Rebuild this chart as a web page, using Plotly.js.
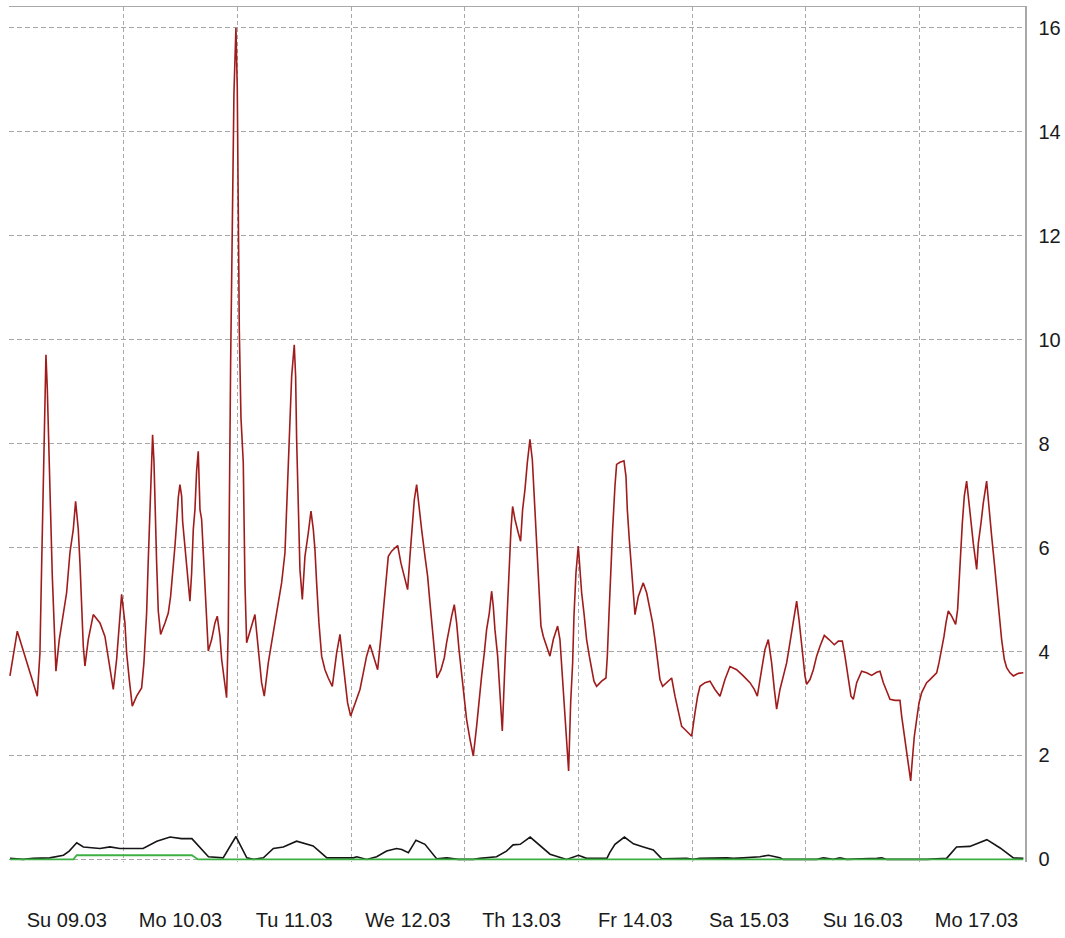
<!DOCTYPE html>
<html>
<head>
<meta charset="utf-8">
<script src="https://cdn.plot.ly/plotly-3.0.1.min.js"></script>
<style>
  html, body { margin: 0; padding: 0; background: #ffffff; }
  #chart { width: 1065px; height: 938px; }
</style>
</head>
<body>
<div id="chart"></div>
<script>
// Hours since Sun 09.03 00:00
const dayLabels = ['Su 09.03','Mo 10.03','Tu 11.03','We 12.03','Th 13.03','Fr 14.03','Sa 15.03','Su 16.03','Mo 17.03'];

const redHours = [0,1.55,5.77,6.33,6.68,7.04,7.39,7.6,7.88,8.3,8.58,8.94,9.36,9.71,10.41,11.26,11.96,12.66,13.37,13.86,
 14.42,14.78,15.13,15.48,15.83,16.53,17.59,19.0,20.05,20.76,21.81,22.52,23.22,23.57,24.27,24.63,25.19,25.82,26.74,27.79,
 28.28,28.85,29.2,29.55,29.9,30.11,30.4,30.61,30.96,31.31,31.8,32.72,33.42,33.91,34.33,34.83,35.18,35.53,35.88,36.24,
 36.45,36.94,37.29,37.64,37.99,38.35,38.7,39.05,39.4,39.75,40.11,40.46,40.81,41.16,41.65,41.86,42.57,43.27,43.76,44.33,
 44.68,45.17,45.73,46.08,46.3,46.58,46.93,47.28,47.7,47.98,48.2,48.41,48.76,49.25,49.6,49.96,51.71,52.42,53.12,53.68,
 54.53,55.23,55.94,56.64,57.34,58.05,58.4,58.75,59.1,59.46,60.01,60.3,60.51,60.86,61.21,61.71,62.27,62.97,63.54,64.03,
 64.38,64.73,65.22,65.79,66.49,67.19,68.04,68.95,69.66,70.15,70.71,71.27,71.91,72.82,73.88,74.58,75.28,75.99,76.69,77.61,
 78.31,78.8,79.3,79.86,80.56,81.27,81.83,82.53,83.24,83.94,84.43,84.93,85.35,85.84,86.33,86.89,87.6,88.16,88.65,89.15,
 89.71,90.13,90.98,91.68,92.17,92.66,93.23,93.79,94.28,94.78,95.34,95.9,96.39,97.1,97.8,98.5,99.0,99.56,100.12,100.61,
 101.18,101.67,102.02,102.37,102.94,103.43,103.92,104.49,104.98,105.33,105.75,106.1,106.6,107.3,107.79,108.21,108.71,109.2,109.76,110.26,
 110.61,111.03,111.38,111.73,112.08,112.58,113.28,113.98,114.69,115.6,116.09,116.45,116.8,117.29,117.64,117.92,118.35,118.77,119.05,119.47,
 119.96,120.32,120.67,121.16,121.72,122.29,122.78,123.27,123.83,124.89,125.8,126.09,126.44,126.79,127.21,127.7,128.05,128.76,129.6,130.03,
 130.31,130.73,131.15,131.57,131.93,132.63,133.68,134.39,135.09,135.65,136.15,136.64,137.2,137.76,138.61,139.67,140.37,141.07,141.78,142.48,
 143.18,143.89,144.59,145.15,145.65,146.7,147.76,148.81,149.87,150.92,151.98,153.39,154.79,156.2,157.11,157.75,158.66,159.37,160.07,160.77,
 161.34,161.83,162.53,163.24,163.94,164.64,165.35,166.05,166.54,166.96,167.46,167.81,168.16,168.87,169.57,170.27,170.98,171.89,172.88,174.0,
 174.85,175.69,176.25,176.96,177.52,178.01,178.72,179.77,180.83,181.88,182.94,183.64,184.35,185.05,185.75,186.81,187.86,188.21,188.78,189.27,
 189.76,190.12,190.47,190.89,191.38,191.88,192.44,193.0,193.49,194.19,194.9,195.6,196.09,196.66,197.15,197.57,198.06,198.77,199.61,200.03,
 200.32,200.67,201.02,201.44,201.93,202.43,202.85,203.34,204.05,204.4,204.96,205.45,206.15,206.65,207.21,207.77,208.26,208.76,209.32,209.88,
 210.38,211.08,211.79,212.84,213.9];

const redValues = [3.53,4.39,3.14,3.97,5.61,7.21,8.88,9.71,9.07,7.88,6.67,5.45,4.23,3.62,4.23,4.74,5.13,5.9,6.35,6.89,
 6.35,5.7,4.94,4.1,3.72,4.23,4.71,4.55,4.29,3.91,3.27,3.85,4.62,5.1,4.55,3.97,3.46,2.95,3.14,3.3,
 3.78,4.74,5.77,6.73,7.69,8.17,7.66,6.73,5.71,4.78,4.33,4.55,4.74,5.06,5.45,6.03,6.47,6.96,7.21,6.99,
 6.5,6.03,5.67,5.32,4.97,5.51,6.35,6.73,7.47,7.85,6.73,6.54,5.9,5.19,4.42,4.01,4.23,4.55,4.68,4.29,
 3.85,3.53,3.11,4.42,6.99,9.55,12.15,14.74,16.0,14.85,12.46,10.19,8.5,7.63,5.32,4.17,4.71,4.1,3.4,3.14,
 3.78,4.17,4.55,4.94,5.32,5.9,6.79,7.69,8.59,9.29,9.9,9.29,8.08,6.86,5.58,5.0,5.83,6.28,6.7,6.35,
 5.96,5.32,4.55,3.91,3.65,3.49,3.33,3.97,4.33,3.91,3.46,3.01,2.76,3.01,3.27,3.59,3.91,4.13,3.94,3.65,
 4.29,4.74,5.32,5.83,5.93,5.99,6.04,5.7,5.45,5.19,5.83,6.47,6.92,7.21,6.86,6.35,5.83,5.45,4.94,4.42,
 3.91,3.49,3.65,3.88,4.17,4.42,4.68,4.9,4.55,4.04,3.53,3.08,2.69,2.31,1.99,2.56,3.08,3.53,3.97,4.42,
 4.74,5.16,4.87,4.42,3.91,3.27,2.47,3.78,4.87,5.51,6.35,6.79,6.54,6.28,6.12,6.73,7.12,7.63,8.08,7.69,
 7.05,6.31,5.58,4.87,4.49,4.29,4.1,3.91,4.23,4.49,4.23,3.72,3.14,2.5,2.12,1.7,3.01,3.78,4.68,5.51,
 6.03,5.58,5.13,4.74,4.23,3.91,3.65,3.43,3.33,3.43,3.49,3.91,4.71,5.58,6.35,7.18,7.6,7.64,7.67,7.37,
 6.73,6.15,5.58,5.06,4.71,5.06,5.32,5.13,4.81,4.55,4.23,3.85,3.46,3.33,3.4,3.49,3.14,2.82,2.56,2.5,
 2.44,2.37,2.82,3.14,3.33,3.4,3.43,3.27,3.14,3.46,3.71,3.65,3.53,3.4,3.27,3.14,3.65,4.04,4.23,3.78,
 3.27,2.89,3.27,3.53,3.78,4.17,4.55,4.97,4.62,4.23,3.85,3.53,3.37,3.46,3.65,3.91,4.1,4.31,4.23,4.13,
 4.2,4.2,3.91,3.46,3.14,3.08,3.4,3.62,3.59,3.54,3.6,3.62,3.4,3.24,3.08,3.06,3.06,2.76,2.37,2.05,
 1.73,1.51,1.92,2.37,2.69,3.01,3.21,3.33,3.4,3.46,3.53,3.59,3.78,4.04,4.29,4.55,4.78,4.68,4.52,4.81,
 5.32,5.96,6.47,6.99,7.28,6.86,6.47,6.08,5.58,6.08,6.47,6.86,7.28,6.73,6.22,5.71,5.19,4.68,4.23,3.85,
 3.69,3.59,3.53,3.58,3.59];

const blackHours = [0,2.8,4.9,8.4,11.3,12.5,14.1,15.5,19.0,21.1,23.2,28.1,31.0,33.8,36.2,38.4,41.9,45.0,47.7,50.0,
 51.4,53.5,55.6,57.7,60.5,64.0,66.9,72.5,73.2,75.3,77.4,79.5,81.6,82.7,84.1,85.7,87.6,88.7,90.1,92.2,
 94.6,97.8,99.2,102.7,104.8,106.2,107.7,109.8,111.9,114.0,117.5,120.0,121.7,126.0,126.6,127.7,129.7,131.6,133.7,135.8,
 137.6,142.8,144.2,145.6,151.3,152.7,154.8,158.3,160.1,162.5,163.2,170.3,171.7,173.8,175.2,176.6,183.0,184.0,185.1,189.3,
 192.1,193.5,197.7,199.8,202.6,204.0,206.2,209.0,211.8,213.9];
const blackValues = [0.02,0.0,0.02,0.03,0.08,0.16,0.32,0.24,0.21,0.24,0.21,0.21,0.35,0.43,0.4,0.4,0.05,0.03,0.44,0.03,
 0.0,0.03,0.21,0.24,0.35,0.26,0.03,0.03,0.05,0.0,0.05,0.16,0.21,0.19,0.13,0.37,0.29,0.16,0.01,0.03,
 0.0,0.0,0.02,0.05,0.16,0.28,0.29,0.43,0.26,0.1,0.0,0.08,0.02,0.02,0.13,0.29,0.43,0.3,0.24,0.18,
 0.01,0.02,0.0,0.02,0.03,0.02,0.03,0.05,0.08,0.03,0.0,0.0,0.03,0.0,0.03,0.0,0.02,0.03,0.0,0.0,
 0.0,0.0,0.02,0.24,0.25,0.3,0.38,0.22,0.03,0.02];

const greenHours = [0,13.4,14.1,38.4,39.7,213.9];
const greenValues = [0,0,0.08,0.08,0,0];

const dayStarts = [0,24,48,72,96,120,144,168,192];
const dayNoons = [12,36,60,84,108,132,156,180,204];
const yTicks = [0,2,4,6,8,10,12,14,16];

const gridColor = '#a8a8a8';
const font = {family: 'Liberation Sans, Arial, sans-serif', size: 20, color: '#1a1a1a'};
const xRange = [-0.2, 214.25];

const traces = [
  {x: redHours, y: redValues, type: 'scatter', mode: 'lines',
   line: {color: '#a01c1c', width: 1.6}, xaxis: 'x', yaxis: 'y'},
  {x: blackHours, y: blackValues, type: 'scatter', mode: 'lines',
   line: {color: '#151515', width: 1.6}, xaxis: 'x', yaxis: 'y'},
  {x: greenHours, y: greenValues, type: 'scatter', mode: 'lines',
   line: {color: '#3cb043', width: 1.8}, xaxis: 'x2', yaxis: 'y'}
];

const layout = {
  width: 1065, height: 938,
  margin: {l: 9, r: 40, t: 7, b: 76},
  paper_bgcolor: '#ffffff', plot_bgcolor: '#ffffff',
  showlegend: false, hovermode: false,
  font: font,
  xaxis: {
    type: 'linear', range: xRange, side: 'top',
    tickmode: 'array', tickvals: dayStarts, showticklabels: false, ticks: '',
    showgrid: true, gridcolor: gridColor, gridwidth: 1, griddash: '4px,3px',
    showline: true, linecolor: gridColor, linewidth: 1.5, zeroline: false
  },
  xaxis2: {
    type: 'linear', range: xRange, overlaying: 'x', anchor: 'y', side: 'bottom',
    tickmode: 'array', tickvals: dayNoons, ticktext: dayLabels, ticks: '',
    ticklabelstandoff: 44, tickfont: font,
    showgrid: false, showline: false, zeroline: false
  },
  yaxis: {
    type: 'linear', range: [-0.05, 16.4], side: 'right',
    tickmode: 'array', tickvals: yTicks, ticks: '', ticklabelstandoff: 8,
    tickfont: font,
    showgrid: true, gridcolor: gridColor, gridwidth: 1, griddash: '5px,3px',
    showline: true, linecolor: gridColor, linewidth: 1.5, zeroline: false
  }
};

Plotly.newPlot('chart', traces, layout, {displayModeBar: false, staticPlot: true});
</script>
</body>
</html>
